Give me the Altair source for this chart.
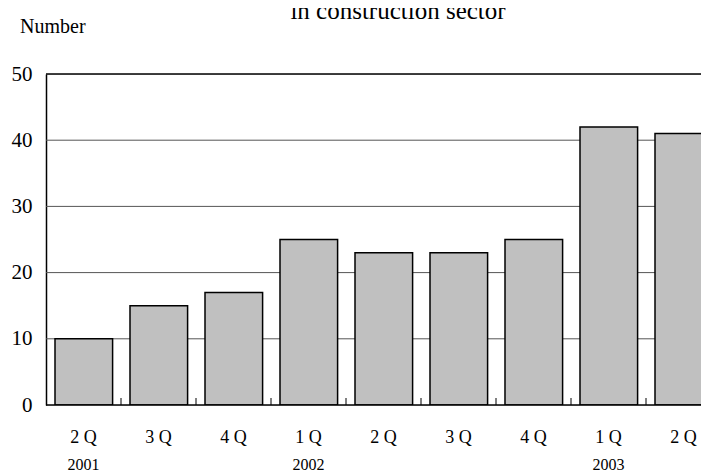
import altair as alt
import pandas as pd

quarters = ["2 Q", "3 Q", "4 Q", "1 Q", "2 Q", "3 Q", "4 Q", "1 Q", "2 Q"]
years = ["2001", "", "", "2002", "", "", "", "2003", ""]
values = [10, 15, 17, 25, 23, 23, 25, 42, 41]
y_ticks = [0, 10, 20, 30, 40, 50]
grid_vals = [10, 20, 30, 40]

df = pd.DataFrame({"idx": list(range(len(values))), "q": quarters, "year": years, "value": values})
tick_df = pd.DataFrame({"pos": list(range(1, len(values) + 1))})

FONT = "Liberation Serif"
W, H = 655, 331
XMAX = 655 / 75.0

xs = alt.Scale(domain=[0, XMAX], nice=False, zero=False)
ys = alt.Scale(domain=[0, 50], nice=False)
yaxis = alt.Axis(values=y_ticks, grid=False, domain=True, domainColor="black", domainWidth=1.5,
                 ticks=False, labelPadding=14, labelFont=FONT, labelFontSize=21,
                 labelColor="black", title=None)

base = alt.Chart(df)

grid = alt.Chart(pd.DataFrame({"v": grid_vals})).mark_rule(color="#555555", strokeWidth=1).encode(
    y=alt.Y("v:Q", scale=ys, axis=yaxis)
)
top = alt.Chart(pd.DataFrame({"v": [50]})).mark_rule(color="black", strokeWidth=1.5).encode(
    y=alt.Y("v:Q", scale=ys, axis=yaxis)
)

bars = base.transform_calculate(
    lo="datum.idx + 0.12", hi="datum.idx + 0.888"
).mark_bar(fill="#c0c0c0", stroke="black", strokeWidth=1.5, clip=True).encode(
    x=alt.X("lo:Q", scale=xs, axis=None),
    x2="hi:Q",
    y=alt.Y("value:Q", scale=ys, axis=yaxis),
    y2=alt.datum(0),
)

ticks = alt.Chart(tick_df).mark_rule(color="black", strokeWidth=1, clip=True).encode(
    x=alt.X("pos:Q", scale=xs, axis=None),
    y=alt.value(H),
    y2=alt.value(H - 7),
)

baseline = alt.Chart(pd.DataFrame({"v": [0]})).mark_rule(color="black", strokeWidth=1.5).encode(
    y=alt.Y("v:Q", scale=ys, axis=yaxis)
)

qlabels = base.transform_calculate(c="datum.idx + 0.5").mark_text(
    font=FONT, fontSize=18, color="black", baseline="middle"
).encode(
    x=alt.X("c:Q", scale=xs, axis=None),
    y=alt.value(H + 33),
    text="q:N",
)
ylabels = base.transform_calculate(c="datum.idx + 0.5").mark_text(
    font=FONT, fontSize=16, color="black", baseline="middle"
).encode(
    x=alt.X("c:Q", scale=xs, axis=None),
    y=alt.value(H + 60),
    text="year:N",
)

ytitle = alt.Chart(pd.DataFrame({"t": ["Number"]})).mark_text(
    font=FONT, fontSize=20, color="black", align="left", baseline="middle"
).encode(x=alt.value(-26), y=alt.value(-47), text="t:N")

title = alt.Chart(pd.DataFrame({"t": ["in construction sector"]})).mark_text(
    font=FONT, fontSize=25, color="black", align="center", baseline="alphabetic"
).encode(x=alt.value(352), y=alt.value(-55), text="t:N")

chart = alt.layer(grid, bars, ticks, baseline, top, qlabels, ylabels, ytitle, title).properties(
    width=W, height=H,
    autosize=alt.AutoSizeParams(type="none"),
    padding={"left": 38, "top": 66, "right": 0, "bottom": 70},
).configure_view(stroke=None).configure(background="white")

chart.save("out.html", embed_options={"renderer": "svg", "actions": False})
